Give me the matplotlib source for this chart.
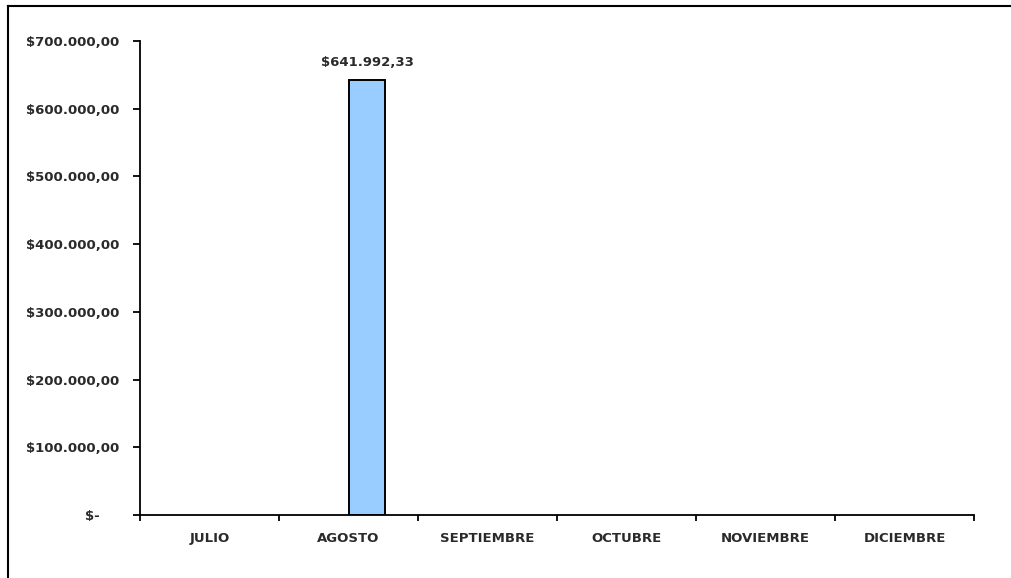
import numpy as np
import matplotlib.pyplot as plt
import matplotlib.transforms as mtransforms
from matplotlib.lines import Line2D

meses = ["JULIO", "AGOSTO", "SEPTIEMBRE", "OCTUBRE", "NOVIEMBRE", "DICIEMBRE"]
montos = [np.nan, 641992.33, np.nan, np.nan, np.nan, np.nan]
y_ticks = [0, 100000, 200000, 300000, 400000, 500000, 600000, 700000]


def pesos(v):
    if v == 0:
        return "$-"
    s = f"{v:,.2f}"
    return "$" + s.replace(",", "X").replace(".", ",").replace("X", ".")


plt.rcParams["font.family"] = ["DejaVu Sans"]
plt.rcParams["font.weight"] = "bold"
plt.rcParams["text.color"] = "#2a2a2a"
plt.rcParams["xtick.labelcolor"] = "#2a2a2a"
plt.rcParams["ytick.labelcolor"] = "#2a2a2a"

fig = plt.figure(figsize=(10.11, 5.78), dpi=100)
ax = fig.add_axes([140 / 1011, 1 - 515 / 578, 834 / 1011, 474 / 578])

x = np.arange(len(meses))
ax.bar(x, montos, width=0.266, align="edge", color="#99CCFF",
       edgecolor="black", linewidth=1.4)

for xi, v in zip(x, montos):
    if not np.isnan(v):
        ax.text(xi + 0.133, v + 16000, pesos(v), ha="center", va="bottom",
                fontsize=9.5)

ax.set_xlim(-0.5, len(meses) - 0.5)
ax.set_ylim(0, 700000)
ax.set_yticks(y_ticks)
ax.set_yticklabels([pesos(v) for v in y_ticks], fontsize=9.5)
ax.set_xticks(x)
ax.set_xticklabels(meses, fontsize=9.5)
ax.set_xticks(np.arange(len(meses) + 1) - 0.5, minor=True)
ax.tick_params(axis="x", which="major", length=0, pad=12)
ax.tick_params(axis="x", which="minor", length=4, width=1.3, direction="out")
ax.tick_params(axis="y", length=5, width=1.3, direction="out", pad=10)

# "$-" sits further left, as in the accounting format
lbl = ax.get_yticklabels()[0]
lbl.set_transform(lbl.get_transform() + mtransforms.ScaledTranslation(
    -19 / 100, 0, fig.dpi_scale_trans))

for side in ["top", "right"]:
    ax.spines[side].set_visible(False)
for side in ["left", "bottom"]:
    ax.spines[side].set_linewidth(1.3)

# borde del gráfico
fig.add_artist(Line2D([8 / 1011, 8 / 1011], [0, 1 - 6 / 578], color="black", linewidth=1.5))
fig.add_artist(Line2D([8 / 1011, 1], [1 - 6 / 578, 1 - 6 / 578], color="black", linewidth=1.5))

fig.savefig("out.png", dpi=100)
